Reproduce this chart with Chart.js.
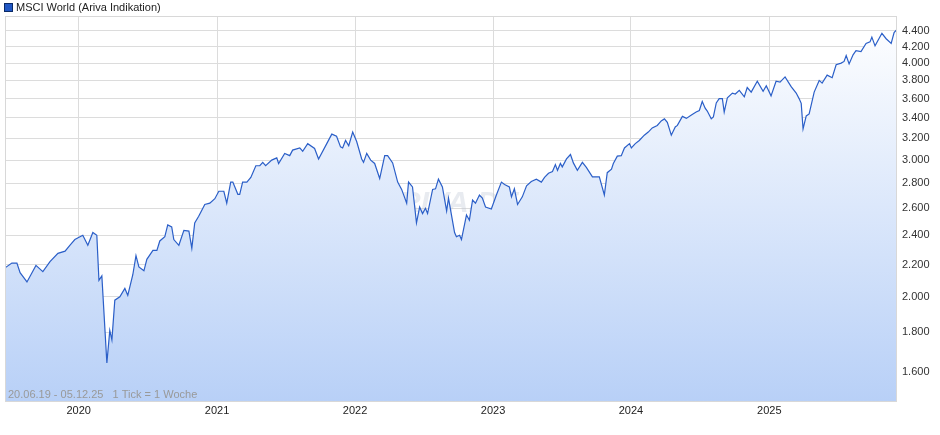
<!DOCTYPE html>
<html>
<head>
<meta charset="utf-8">
<script src="https://cdn.jsdelivr.net/npm/chart.js@4"></script>
<style>
  html, body { margin: 0; padding: 0; background: #fff; }
  #wrap { width: 940px; height: 435px; }
</style>
</head>
<body>
<div id="wrap"><canvas id="msciChart"></canvas></div>
<script>
// week index since 20.06.19 (1 Tick = 1 Woche)
const weeks = [0, 2.6, 4.5, 5.7, 8.3, 11.7, 14.3, 17.0, 20.0, 22.7, 24.5, 26.4, 29.4, 31.3, 33.2, 34.7, 35.5, 36.6, 38.5, 39.6,
  40.4, 41.5, 43.4, 45.3, 46.4, 48.3, 49.5, 50.6, 52.5, 53.6, 55.9, 57.4, 58.5, 60.4, 61.5, 63.0, 63.8, 65.7, 67.6, 69.5,
  70.6, 71.7, 73.2, 75.5, 77.4, 79.3, 80.8, 82.7, 83.8, 85.3, 86.1, 88.0, 88.7, 89.8, 91.4, 92.9, 94.8, 96.3, 97.4, 98.5,
  100.8, 102.7, 103.4, 105.7, 107.6, 108.7, 111.4, 112.5, 114.4, 117.0, 118.5, 121.6, 123.5, 125.3, 126.8, 127.6, 128.7, 129.9, 131.4, 132.9,
  134.8, 135.5, 136.7, 138.2, 139.7, 141.6, 143.5, 144.6, 146.5, 148.4, 149.9, 151.8, 152.5, 154.0, 155.5, 156.7, 157.8, 158.9, 159.7, 161.6,
  162.7, 163.8, 165.3, 166.9, 167.6, 169.9, 170.6, 171.8, 172.5, 174.4, 175.5, 176.7, 177.8, 179.3, 180.4, 181.6, 183.8, 185.7, 187.6, 188.8,
  190.6, 191.4, 192.5, 193.7, 195.5, 197.1, 198.9, 200.8, 202.7, 203.9, 205.4, 206.9, 208.0, 208.8, 209.9, 210.6, 212.2, 213.7, 214.8, 216.3,
  218.2, 219.7, 222.0, 224.6, 226.5, 227.6, 229.2, 229.9, 231.4, 232.9, 234.1, 236.0, 236.7, 238.2, 239.7, 241.6, 243.1, 244.6, 246.5, 248.0,
  249.2, 250.3, 251.8, 253.3, 254.1, 256.0, 257.5, 259.4, 261.2, 262.4, 263.5, 264.6, 265.4, 266.9, 267.7, 268.8, 269.9, 271.1, 271.8, 273.0,
  274.9, 276.0, 277.5, 279.4, 280.5, 282.0, 284.3, 286.5, 287.7, 289.5, 291.4, 292.9, 294.8, 297.1, 299.0, 300.1, 300.9, 301.6, 302.8, 303.9,
  305.8, 307.7, 308.8, 310.7, 312.6, 314.1, 316.0, 317.1, 317.9, 319.0, 320.5, 321.6, 323.5, 325.4, 326.9, 327.6, 328.8, 331.4, 333.0, 334.9,
  336.0, 337.1];
const values = [2179, 2210, 2210, 2148, 2090, 2195, 2155, 2220, 2275, 2290, 2330, 2370, 2400, 2330, 2420, 2400, 2100, 2128, 1643, 1810,
  1760, 1980, 2000, 2050, 2008, 2135, 2260, 2185, 2160, 2235, 2295, 2295, 2360, 2390, 2475, 2460, 2370, 2330, 2435, 2430,
  2310, 2490, 2540, 2630, 2640, 2675, 2735, 2735, 2640, 2810, 2810, 2710, 2710, 2810, 2810, 2850, 2950, 2950, 2980, 2950,
  3000, 3020, 2970, 3060, 3040, 3090, 3110, 3080, 3150, 3105, 3010, 3150, 3240, 3220, 3120, 3110, 3180, 3130, 3260, 3170,
  3010, 2980, 3060, 3000, 2970, 2840, 3040, 3040, 2975, 2810, 2750, 2640, 2810, 2770, 2490, 2610, 2560, 2600, 2560, 2750,
  2755, 2835, 2770, 2580, 2680, 2420, 2390, 2400, 2370, 2550, 2510, 2665, 2640, 2705, 2680, 2610, 2595, 2705, 2810, 2790,
  2770, 2690, 2755, 2630, 2690, 2780, 2815, 2835, 2810, 2850, 2885, 2900, 2960, 2910, 2970, 2940, 3010, 3050, 2975, 2910,
  2980, 2935, 2855, 2855, 2705, 2890, 2920, 2970, 3035, 3040, 3110, 3150, 3110, 3150, 3180, 3230, 3260, 3300, 3325, 3370,
  3390, 3355, 3230, 3310, 3325, 3415, 3395, 3430, 3460, 3475, 3570, 3500, 3470, 3390, 3410, 3555, 3600, 3600, 3460, 3610,
  3660, 3650, 3690, 3620, 3720, 3670, 3790, 3680, 3740, 3630, 3790, 3780, 3840, 3730, 3660, 3600, 3550, 3290, 3420, 3440,
  3670, 3800, 3770, 3860, 3830, 3980, 4000, 4020, 4090, 3990, 4100, 4150, 4140, 4240, 4260, 4320, 4210, 4370, 4300, 4240,
  4380, 4420];
const yearWeeks = [27.86, 80.14, 132.29, 184.43, 236.57, 288.86];
const yearLabels = ['2020', '2021', '2022', '2023', '2024', '2025'];
const yTicks = [1600, 1800, 2000, 2200, 2400, 2600, 2800, 3000, 3200, 3400, 3600, 3800, 4000, 4200, 4400];

const points = weeks.map((w, i) => ({ x: w, y: values[i] }));

// German style: 4.400
function fmt(v) {
  const s = String(Math.round(v));
  return s.slice(0, s.length - 3) + '.' + s.slice(-3);
}

const overlay = {
  id: 'overlay',
  beforeDatasetsDraw(chart) {
    const { ctx } = chart;
    ctx.save();
    ctx.font = 'bold italic 30px "Liberation Sans", Arial, sans-serif';
    ctx.fillStyle = 'rgba(190,198,212,0.35)';
    ctx.textAlign = 'center';
    ctx.textBaseline = 'middle';
    ctx.fillText('ARIVA.DE', 448, 204);
    ctx.restore();
  },
  afterDraw(chart) {
    const { ctx, chartArea: a } = chart;
    ctx.save();
    ctx.strokeStyle = '#d8d8d8';
    ctx.lineWidth = 1;
    ctx.strokeRect(a.left + 0.5, a.top + 0.5, a.right - a.left - 1, a.bottom - a.top);
    ctx.font = '11px "Liberation Sans", Arial, sans-serif';
    ctx.textBaseline = 'middle';
    ctx.fillStyle = '#999';
    ctx.fillText('20.06.19 - 05.12.25   1 Tick = 1 Woche', 8, 395);
    // legend
    ctx.fillStyle = '#2157c4';
    ctx.fillRect(4.5, 3.5, 8, 8);
    ctx.strokeStyle = '#0b2a66';
    ctx.strokeRect(4.5, 3.5, 8, 8);
    ctx.fillStyle = '#222';
    ctx.fillText('MSCI World (Ariva Indikation)', 16, 8);
    ctx.restore();
  }
};

const ctx = document.getElementById('msciChart').getContext('2d');

new Chart(ctx, {
  type: 'line',
  data: {
    datasets: [{
      data: points,
      borderColor: '#2b5fc8',
      borderWidth: 1.2,
      pointRadius: 0,
      tension: 0,
      fill: 'start',
      backgroundColor(context) {
        const a = context.chart.chartArea;
        if (!a) return 'rgba(200,220,250,0.5)';
        const g = context.chart.ctx.createLinearGradient(0, a.top, 0, a.bottom);
        g.addColorStop(0, 'rgba(255,255,255,1)');
        g.addColorStop(1, 'rgba(184,208,247,1)');
        return g;
      }
    }]
  },
  options: {
    responsive: true,
    maintainAspectRatio: false,
    animation: false,
    layout: { padding: { top: 16, left: 5, right: 0, bottom: 0 } },
    plugins: { legend: { display: false }, tooltip: { enabled: false } },
    scales: {
      x: {
        type: 'linear',
        min: 0,
        max: 337.1,
        afterBuildTicks(scale) { scale.ticks = yearWeeks.map(v => ({ value: v })); },
        afterFit(scale) { scale.height = 34; },
        grid: { color: '#dcdcdc', drawTicks: false },
        border: { display: false },
        ticks: {
          padding: 3,
          color: '#222',
          font: { size: 11, family: '"Liberation Sans", Arial, sans-serif' },
          callback(v) { const i = yearWeeks.indexOf(v); return i >= 0 ? yearLabels[i] : ''; }
        }
      },
      y: {
        type: 'logarithmic',
        position: 'right',
        min: 1468,
        max: 4600,
        afterBuildTicks(scale) { scale.ticks = yTicks.map(v => ({ value: v })); },
        afterFit(scale) { scale.width = 43; },
        grid: { color: '#dcdcdc', drawTicks: false },
        border: { display: false },
        ticks: {
          padding: 5,
          color: '#333',
          font: { size: 11, family: '"Liberation Sans", Arial, sans-serif' },
          callback(v) { return fmt(v); }
        }
      }
    }
  },
  plugins: [overlay]
});
</script>
</body>
</html>
